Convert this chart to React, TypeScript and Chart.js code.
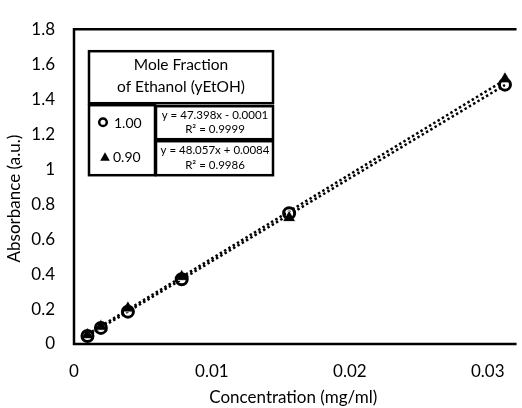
import { useEffect, useRef } from "react";
import { Chart, registerables } from "chart.js";

Chart.register(...registerables);

// Serial dilution concentrations (mg/ml)
const concentrations = [0.000977, 0.00195, 0.00391, 0.00781, 0.0156, 0.03125];
// Absorbance for each ethanol mole fraction
const absorbanceY100 = [0.046, 0.092, 0.185, 0.37, 0.748, 1.483];
const absorbanceY090 = [0.052, 0.1, 0.205, 0.385, 0.722, 1.515];

const seriesLabels = ["1.00", "0.90"];
const fitSlopes = [47.398, 48.057];
const fitIntercepts = [-0.0001, 0.0084];
const fitR2 = [0.9999, 0.9986];

const xTicks = [0, 0.01, 0.02, 0.03];
const xMax = 0.0318;
const yMax = 1.8;
const yStep = 0.2;

const FONT = "Lato, 'Liberation Sans', sans-serif";
const INK = "#000000";

const equationText = (i: number) => {
  const b = fitIntercepts[i];
  const sign = b < 0 ? "-" : "+";
  return `y = ${fitSlopes[i].toFixed(3)}x ${sign} ${Math.abs(b).toFixed(4)}`;
};
const r2Text = (i: number) => `R² = ${fitR2[i].toFixed(4)}`;

const trendPoints = (i: number) => {
  const x0 = concentrations[0];
  const x1 = concentrations[concentrations.length - 1];
  return [
    { x: x0, y: fitSlopes[i] * x0 + fitIntercepts[i] },
    { x: x1, y: fitSlopes[i] * x1 + fitIntercepts[i] },
  ];
};

// Frame lines and axis titles
const framePlugin = {
  id: "frame",
  beforeDatasetsDraw(chart: any) {
    const { ctx, chartArea: a } = chart;
    ctx.save();
    ctx.strokeStyle = INK;
    ctx.lineWidth = 2.5;
    ctx.beginPath();
    ctx.moveTo(a.right + 4, a.top);
    ctx.lineTo(a.left, a.top);
    ctx.lineTo(a.left, a.bottom);
    ctx.lineTo(a.right + 4, a.bottom);
    ctx.stroke();
    ctx.restore();
  },
  afterDraw(chart: any) {
    const { ctx, chartArea: a } = chart;
    ctx.save();
    ctx.fillStyle = INK;
    ctx.font = `17px ${FONT}`;
    ctx.textAlign = "center";
    ctx.textBaseline = "middle";
    ctx.fillText("Concentration (mg/ml)", (a.left + a.right) / 2, a.bottom + 54);
    ctx.translate(15, (a.top + a.bottom) / 2 + 12);
    ctx.rotate(-Math.PI / 2);
    ctx.fillText("Absorbance (a.u.)", 0, 0);
    ctx.restore();
  },
};

// Boxed legend with fit equations
const legendBoxPlugin = {
  id: "legendBox",
  afterDraw(chart: any) {
    const { ctx, chartArea: a } = chart;
    const L = a.left + 15;
    const T = a.top + 22;
    const W = 184;
    ctx.save();
    ctx.strokeStyle = INK;
    ctx.lineWidth = 2.5;
    const box = (x: number, y: number, w: number, h: number) => {
      ctx.fillStyle = "#ffffff";
      ctx.fillRect(x, y, w, h);
      ctx.strokeRect(x, y, w, h);
    };
    // title
    box(L, T, W, 52);
    // marker cell
    box(L, T + 54, 66, 70);
    // equation cells
    box(L + 67, T + 55, W - 67, 33);
    box(L + 67, T + 90, W - 67, 34);

    ctx.fillStyle = INK;
    ctx.textBaseline = "middle";
    ctx.textAlign = "center";
    ctx.font = `15.5px ${FONT}`;
    ctx.fillText("Mole Fraction", L + W / 2, T + 14);
    ctx.fillText("of Ethanol (yEtOH)", L + W / 2, T + 36);

    ctx.font = `11.5px ${FONT}`;
    const ex = L + 67 + (W - 67) / 2 + 0.5;
    ctx.fillText(equationText(0), ex, T + 64);
    ctx.fillText(r2Text(0), ex, T + 78);
    ctx.fillText(equationText(1), ex, T + 99);
    ctx.fillText(r2Text(1), ex, T + 114);

    // markers
    ctx.lineWidth = 2.5;
    ctx.beginPath();
    ctx.arc(L + 14, T + 71, 3.8, 0, Math.PI * 2);
    ctx.stroke();
    ctx.beginPath();
    const tx = L + 16;
    const ty = T + 106;
    ctx.moveTo(tx, ty - 5);
    ctx.lineTo(tx + 4.8, ty + 3.5);
    ctx.lineTo(tx - 4.8, ty + 3.5);
    ctx.closePath();
    ctx.fill();

    ctx.font = `14px ${FONT}`;
    ctx.textAlign = "left";
    ctx.fillText(seriesLabels[0], L + 25, T + 72);
    ctx.fillText(seriesLabels[1], L + 24, T + 106);
    ctx.restore();
  },
};

export default function App() {
  const canvasRef = useRef<HTMLCanvasElement | null>(null);

  useEffect(() => {
    const canvas = canvasRef.current;
    if (!canvas) return;
    const pts = (ys: number[]) => concentrations.map((x, i) => ({ x, y: ys[i] }));
    const chart = new Chart(canvas, {
      type: "scatter",
      data: {
        datasets: [
          {
            label: seriesLabels[0],
            data: pts(absorbanceY100),
            pointStyle: "circle",
            pointRadius: 5.5,
            pointBorderWidth: 3,
            pointBackgroundColor: "rgba(0,0,0,0)",
            pointBorderColor: INK,
            showLine: false,
          },
          {
            label: seriesLabels[1],
            data: pts(absorbanceY090),
            pointStyle: "triangle",
            pointRadius: 7.5,
            pointBorderWidth: 0.8,
            pointBackgroundColor: INK,
            pointBorderColor: "#ffffff",
            showLine: false,
          },
          {
            label: "fit " + seriesLabels[0],
            data: trendPoints(0),
            showLine: true,
            borderColor: INK,
            borderWidth: 2.5,
            borderDash: [2.5, 2.5],
            borderCapStyle: "butt",
            pointRadius: 0,
            fill: false,
          },
          {
            label: "fit " + seriesLabels[1],
            data: trendPoints(1),
            showLine: true,
            borderColor: INK,
            borderWidth: 2.5,
            borderDash: [2.5, 2.5],
            borderCapStyle: "butt",
            pointRadius: 0,
            fill: false,
          },
        ],
      },
      plugins: [framePlugin, legendBoxPlugin],
      options: {
        animation: false,
        responsive: false,
        devicePixelRatio: 1,
        layout: { padding: { top: 22, right: 0, left: 0, bottom: 0 } },
        plugins: {
          legend: { display: false },
          tooltip: { enabled: false },
          title: { display: false },
        },
        scales: {
          x: {
            type: "linear",
            min: 0,
            max: xMax,
            afterBuildTicks: (s: any) => {
              s.ticks = xTicks.map((v) => ({ value: v }));
            },
            afterFit: (s: any) => {
              s.height = 64;
            },
            grid: { display: false, drawTicks: false },
            border: { display: false },
            ticks: {
              color: INK,
              font: { family: FONT, size: 17 },
              padding: 17,
              maxRotation: 0,
              autoSkip: false,
              callback: (v: any) => String(Number(Number(v).toFixed(3))),
            },
          },
          y: {
            type: "linear",
            min: 0,
            max: yMax,
            afterFit: (s: any) => {
              s.width = 74;
            },
            grid: { display: false, drawTicks: false },
            border: { display: false },
            ticks: {
              stepSize: yStep,
              color: INK,
              font: { family: FONT, size: 17 },
              padding: 19,
              callback: (v: any) => String(Number(Number(v).toFixed(2))),
            },
          },
        },
      },
    });
    return () => chart.destroy();
  }, []);

  return (
    <div style={{ position: "absolute", left: 0, top: 0, width: 522, height: 408, background: "#fff" }}>
      <canvas ref={canvasRef} width={522} height={408} style={{ display: "block" }} />
    </div>
  );
}
